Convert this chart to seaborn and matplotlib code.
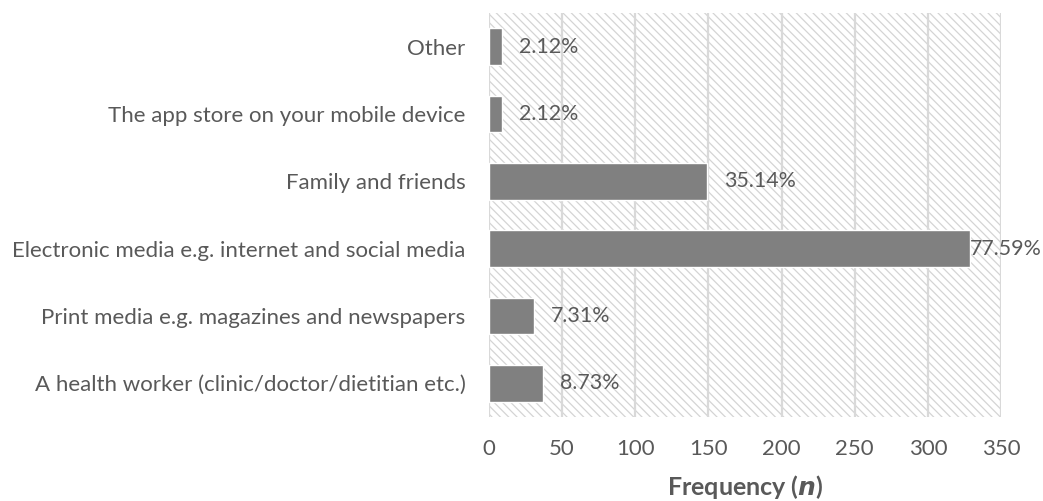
import matplotlib
matplotlib.use("Agg")
import matplotlib.pyplot as plt
from matplotlib.patches import Rectangle
import seaborn as sns
import pandas as pd

# Where respondents heard about the app
sources = [
    "Other",
    "The app store on your mobile device",
    "Family and friends",
    "Electronic media e.g. internet and social media",
    "Print media e.g. magazines and newspapers",
    "A health worker (clinic/doctor/dietitian etc.)",
]
counts = [9, 9, 149, 329, 31, 37]
percent_labels = ["2.12%", "2.12%", "35.14%", "77.59%", "7.31%", "8.73%"]
x_ticks = [0, 50, 100, 150, 200, 250, 300, 350]

df = pd.DataFrame({"source": sources, "count": counts})

sns.set_theme(style="white")
plt.rcParams["font.family"] = ["Lato", "DejaVu Sans"]
plt.rcParams["hatch.color"] = "#d4d4d4"
plt.rcParams["hatch.linewidth"] = 0.9

text_color = "#595959"
fs = 16
fig = plt.figure(figsize=(10.43, 5.01), dpi=100)
ax = fig.add_axes([489 / 1043, 1 - 417 / 501, 512 / 1043, 404 / 501])

# hatched plot-area background
ax.add_patch(Rectangle((0, 0), 1, 1, transform=ax.transAxes, facecolor="white",
                       edgecolor="#d4d4d4", hatch="\\\\\\\\", lw=0, zorder=0))

sns.barplot(data=df, x="count", y="source", orient="h", color="#808080",
            width=0.54, saturation=1, ax=ax, zorder=2)

ax.set_xlim(0, 350)
ax.set_xticks(x_ticks)
ax.grid(axis="x", color="#d9d9d9", lw=1.6, zorder=1)
ax.grid(axis="y", visible=False)
ax.set_axisbelow(True)
for s in ax.spines.values():
    s.set_visible(False)

ax.tick_params(axis="both", length=0, labelsize=fs, labelcolor=text_color)
ax.tick_params(axis="y", pad=17)
ax.tick_params(axis="x", pad=16)
ax.set_ylabel("")
ax.set_xlabel("Frequency ($\\mathbfit{n}$)", fontsize=18, fontweight="bold",
              color=text_color)
ax.xaxis.set_label_coords(0.5, -70 / 404)
ax.xaxis.label.set_va("center")

bars = [p for p in ax.patches if p.get_zorder() >= 2]
for bar, lab in zip(bars, percent_labels):
    x_end = bar.get_width()
    y_mid = bar.get_y() + bar.get_height() / 2
    off = 0 if x_end > 300 else 12
    ax.annotate(lab, (x_end, y_mid), xytext=(off, 0), textcoords="offset points",
                ha="left", va="center", fontsize=15.4, color=text_color,
                annotation_clip=False, zorder=3)

fig.savefig("out.png", dpi=100)
